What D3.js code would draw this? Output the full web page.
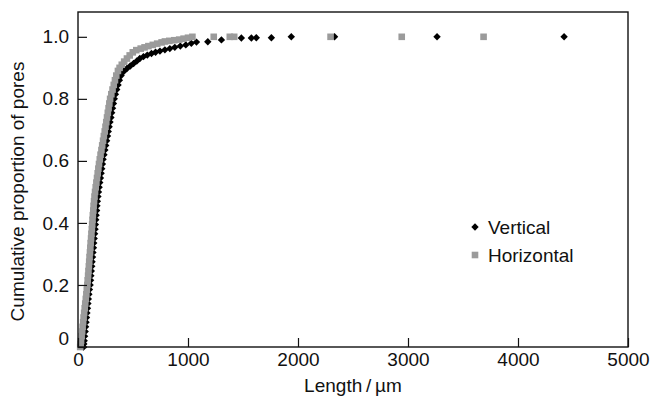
<!DOCTYPE html>
<html>
<head>
<meta charset="utf-8">
<script src="https://cdn.jsdelivr.net/npm/d3@7"></script>
<style>
  body { margin: 0; background: #fff; }
  text { font-family: "Liberation Sans", Arial, Helvetica, sans-serif; fill: #111; }
</style>
</head>
<body>
<svg id="chart" width="650" height="398"></svg>
<script>
// Cumulative distribution of pore lengths (µm) for two orientations
const verticalLength = [50,53,56,60,65,69,73,77,81,86, 90,94,99,104,110,114,117,121,125,128,
  132,136,140,143,147,151,155,158,161,165, 169,172,176,181,186,192,198,204,210,216,
  222,228,236,244,252,260,268,275,283,291, 299,306,314,322,330,340,352,364,376,392,
  415,445,475,505,535,562,595,630,668,705, 745,790,835,880,930,980,1030,1077,1180,1304,
  1485,1576,1621,1758,1939,2332,3264,4419];
const verticalProportion = [0,.01,.02,.035,.05,.065,.08,.095,.11,.125, .14,.155,.17,.185,.2,.215,.23,.245,.26,.275,
  .29,.305,.32,.335,.35,.365,.38,.395,.41,.425, .44,.455,.47,.485,.5,.515,.53,.545,.56,.575,
  .59,.605,.62,.635,.65,.665,.68,.695,.71,.725, .74,.755,.77,.785,.8,.815,.83,.845,.86,.875,
  .888,.898,.906,.914,.922,.93,.936,.941,.946,.95, .954,.958,.962,.966,.97,.974,.979,.983,.984,.99,
  .996,.996,.997,.997,1,1,1,1];

const horizontalLength = [20,24,28,33,38,42,47,51,56,61, 66,71,76,80,85,88,92,95,99,102,
  105,109,112,115,119,122,126,129,132,135, 139,142,146,150,155,161,167,173,179,185,
  191,198,205,213,220,228,235,243,250,257, 264,271,278,285,292,303,314,325,336,348,
  363,378,398,420,445,470,498,530,570,605, 640,680,720,760,790,830,875,920,960,1000,
  1040,1234,1380,1420,2296,2943,3687];
const horizontalProportion = [0,.01,.02,.035,.05,.065,.08,.095,.11,.125, .14,.155,.17,.185,.2,.215,.23,.245,.26,.275,
  .29,.305,.32,.335,.35,.365,.38,.395,.41,.425, .44,.455,.47,.485,.5,.515,.53,.545,.56,.575,
  .59,.605,.62,.635,.65,.665,.68,.695,.71,.725, .74,.755,.77,.785,.8,.815,.83,.845,.86,.875,
  .89,.9,.91,.92,.93,.94,.95,.957,.962,.966, .97,.974,.978,.982,.985,.987,.989,.991,.994,.997,
  1,1,1,1,1,1,1];

const xTicks = [0, 1000, 2000, 3000, 4000, 5000];
const yTicks = [0, 0.2, 0.4, 0.6, 0.8, 1.0];
const yTickLabels = ["0", "0.2", "0.4", "0.6", "0.8", "1.0"];
const seriesNames = ["Vertical", "Horizontal"];

const margin = { left: 78, right: 22, top: 12, bottom: 51 };
const W = 650, H = 398;
const fontSize = 19;
const svg = d3.select("#chart");

const x = d3.scaleLinear().domain([0, 5000]).range([margin.left, W - margin.right]);
const y = d3.scaleLinear().domain([0, 1.08]).range([H - margin.bottom, margin.top]);

const vertical = d3.zip(verticalLength, verticalProportion);
const horizontal = d3.zip(horizontalLength, horizontalProportion);

const grey = "#9b9b9b";
const diamond = "M0,-3.7L3.7,0L0,3.7L-3.7,0Z";
const sq = 6.6;

// markers: vertical (black diamonds) beneath horizontal (grey squares)
svg.append("g").selectAll("path").data(vertical).join("path")
  .attr("d", diamond)
  .attr("transform", d => `translate(${x(d[0])},${y(d[1])})`)
  .attr("fill", "#000");

svg.append("g").selectAll("rect").data(horizontal).join("rect")
  .attr("x", d => x(d[0]) - sq / 2)
  .attr("y", d => y(d[1]) - sq / 2)
  .attr("width", sq).attr("height", sq)
  .attr("fill", grey);

// axes with inward ticks
const xAxis = svg.append("g")
  .attr("transform", `translate(0,${y(0)})`)
  .call(d3.axisBottom(x).tickValues(xTicks).tickFormat(d3.format("d"))
    .tickSizeInner(-9).tickSizeOuter(0).tickPadding(6));
const yAxis = svg.append("g")
  .attr("transform", `translate(${x(0)},0)`)
  .call(d3.axisLeft(y).tickValues(yTicks).tickFormat((d, i) => yTickLabels[i])
    .tickSizeInner(-9).tickSizeOuter(0).tickPadding(9));

[xAxis, yAxis].forEach(g => {
  g.select(".domain").remove();
  g.selectAll(".tick line").attr("stroke", "#111").attr("stroke-width", 1.2);
  g.selectAll(".tick text").attr("font-size", fontSize).attr("fill", "#111")
    .style("font-family", '"Liberation Sans", Arial, sans-serif');
});
// lift the y "0" label clear of the x "0" label
yAxis.selectAll(".tick text").filter(d => d === 0).attr("dy", "-0.15em");

// frame
svg.append("rect")
  .attr("x", x(0)).attr("y", margin.top)
  .attr("width", x(5000) - x(0)).attr("height", y(0) - margin.top)
  .attr("fill", "none").attr("stroke", "#111").attr("stroke-width", 1.4);

// axis titles
svg.append("text")
  .attr("x", (x(0) + x(5000)) / 2).attr("y", 392)
  .attr("text-anchor", "middle").attr("font-size", fontSize)
  .text("Length\u2009/\u2009\u00b5m");

svg.append("text")
  .attr("transform", `translate(24,${(y(0) + margin.top) / 2 + 12}) rotate(-90)`)
  .attr("text-anchor", "middle").attr("font-size", fontSize)
  .text("Cumulative proportion of pores");

// legend
const legend = svg.append("g").attr("transform", "translate(475,227)");
legend.append("path").attr("d", diamond).attr("fill", "#000");
legend.append("rect").attr("x", -sq / 2).attr("y", 28 - sq / 2).attr("width", sq).attr("height", sq).attr("fill", grey);
legend.selectAll("text").data(seriesNames).join("text")
  .attr("x", 13).attr("y", (d, i) => i * 28 + 7)
  .attr("font-size", fontSize)
  .text(d => d);
</script>
</body>
</html>
